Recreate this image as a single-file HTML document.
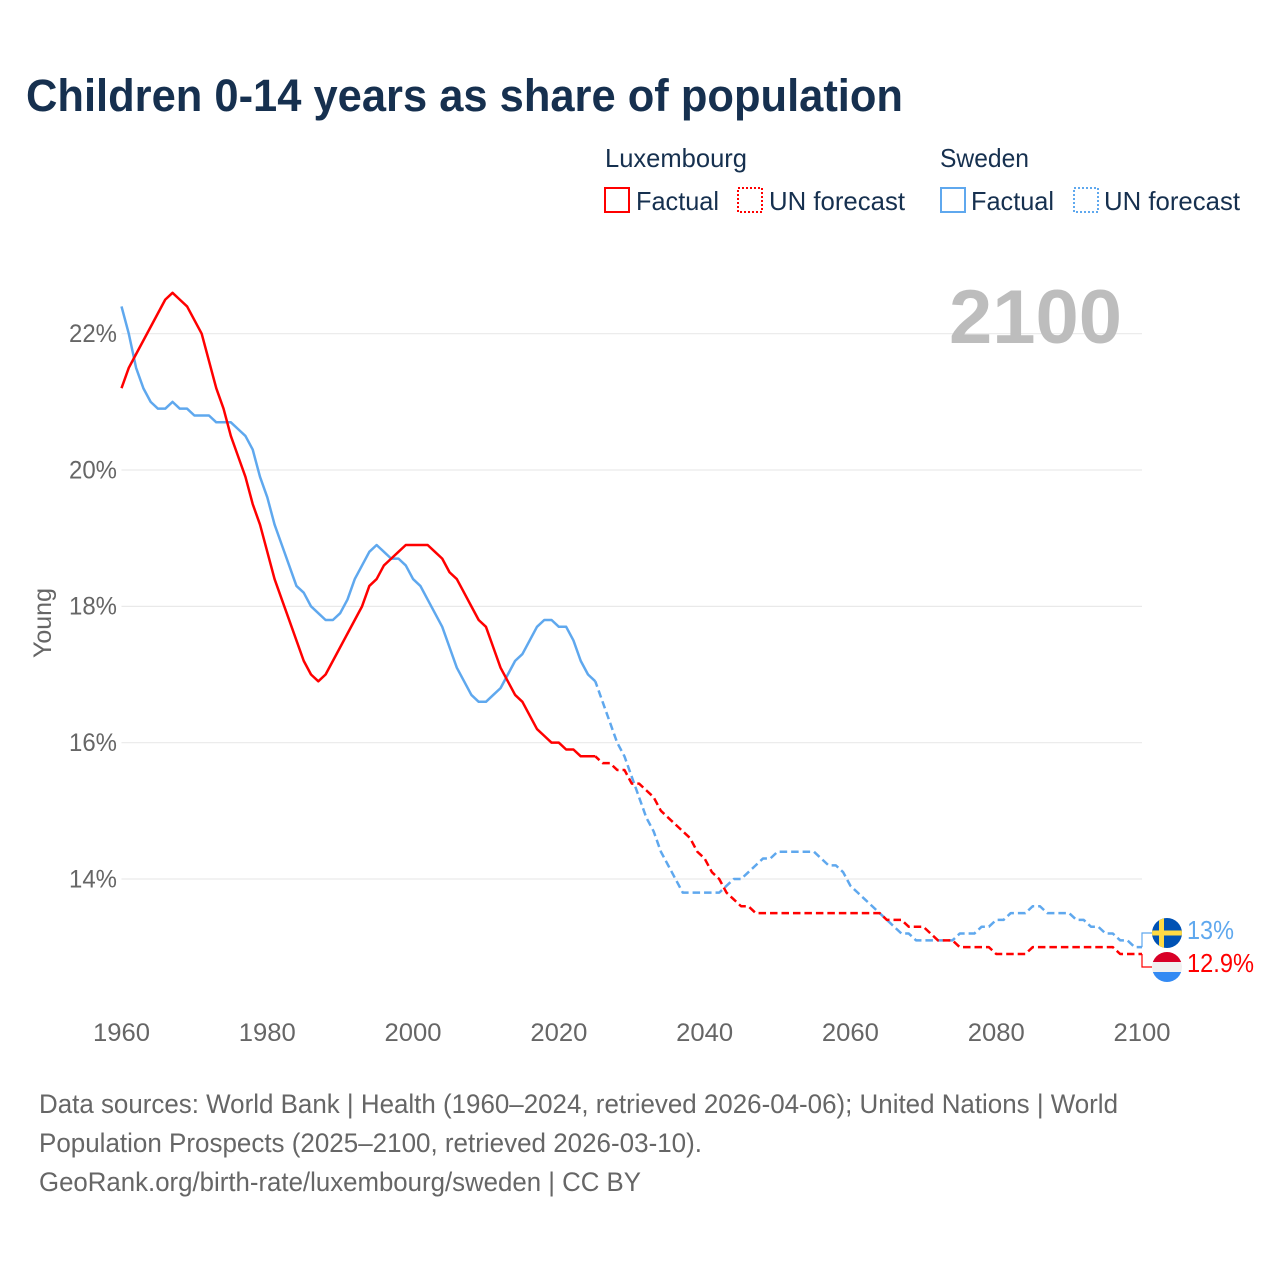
<!DOCTYPE html>
<html lang="en">
<head>
<meta charset="utf-8">
<title>Children 0-14 years as share of population</title>
<style>
html,body{margin:0;padding:0;background:#fff;}
svg{display:block;font-family:"Liberation Sans",sans-serif;}
.tick{font-size:25px;fill:#666;}
.foot{font-size:26.5px;fill:#666;}
.leg{font-size:26px;fill:#16304f;}
</style>
</head>
<body>
<svg id="chart" width="1280" height="1280" viewBox="0 0 1280 1280" xmlns="http://www.w3.org/2000/svg">
  <defs>
    <clipPath id="clip-se"><circle cx="1167" cy="933" r="15"/></clipPath>
    <clipPath id="clip-lu"><circle cx="1167" cy="967" r="15"/></clipPath>
  </defs>
  <text x="26" y="111" font-size="45" font-weight="700" fill="#16304f" textLength="877" lengthAdjust="spacingAndGlyphs">Children 0-14 years as share of population</text>

  <g>
    <text class="leg" x="605" y="167" textLength="142" lengthAdjust="spacingAndGlyphs">Luxembourg</text>
    <rect x="605" y="188" width="24" height="24" fill="none" stroke="#ff0000" stroke-width="2"/>
    <text class="leg" x="636" y="210" textLength="83" lengthAdjust="spacingAndGlyphs">Factual</text>
    <rect x="738" y="188" width="24" height="24" fill="none" stroke="#ff0000" stroke-width="2" stroke-dasharray="2 2"/>
    <text class="leg" x="769" y="210" textLength="136" lengthAdjust="spacingAndGlyphs">UN forecast</text>
  </g>
  <g>
    <text class="leg" x="940" y="167" textLength="89" lengthAdjust="spacingAndGlyphs">Sweden</text>
    <rect x="941" y="188" width="24" height="24" fill="none" stroke="#5fa8ee" stroke-width="2"/>
    <text class="leg" x="971" y="210" textLength="83" lengthAdjust="spacingAndGlyphs">Factual</text>
    <rect x="1074" y="188" width="24" height="24" fill="none" stroke="#5fa8ee" stroke-width="2" stroke-dasharray="2 2"/>
    <text class="leg" x="1104" y="210" textLength="136" lengthAdjust="spacingAndGlyphs">UN forecast</text>
  </g>

  <g id="grid"></g>
  <text x="949" y="343" font-size="76" font-weight="700" fill="#bdbdbd" textLength="173" lengthAdjust="spacingAndGlyphs">2100</text>
  <g id="yticks"></g>
  <g id="xticks"></g>
  <text class="tick" transform="translate(51,658) rotate(-90)" x="0" y="0" textLength="70" lengthAdjust="spacingAndGlyphs">Young</text>
  <g id="series"></g>

  <g clip-path="url(#clip-se)">
    <rect x="1152" y="918" width="30" height="30" fill="#0052b4"/>
    <rect x="1159" y="918" width="5" height="30" fill="#ffda44"/>
    <rect x="1152" y="930.5" width="30" height="5" fill="#ffda44"/>
  </g>
  <g clip-path="url(#clip-lu)">
    <rect x="1152" y="952" width="30" height="10" fill="#d80027"/>
    <rect x="1152" y="962" width="30" height="10" fill="#f0f0f0"/>
    <rect x="1152" y="972" width="30" height="10" fill="#338af3"/>
  </g>
  <text id="label-se" x="1187" y="939" font-size="26" fill="#5fa8ee" textLength="47" lengthAdjust="spacingAndGlyphs"></text>
  <text id="label-lu" x="1187" y="972" font-size="26" fill="#ff0000" textLength="67" lengthAdjust="spacingAndGlyphs"></text>

  <g>
    <text class="foot" x="39" y="1113" textLength="1079" lengthAdjust="spacingAndGlyphs">Data sources: World Bank | Health (1960–2024, retrieved 2026-04-06); United Nations | World</text>
    <text class="foot" x="39" y="1152" textLength="663" lengthAdjust="spacingAndGlyphs">Population Prospects (2025–2100, retrieved 2026-03-10).</text>
    <text class="foot" x="39" y="1191" textLength="602" lengthAdjust="spacingAndGlyphs">GeoRank.org/birth-rate/luxembourg/sweden | CC BY</text>
  </g>
</svg>
<script>
const yTicks = [22, 20, 18, 16, 14];
const xTicks = [1960, 1980, 2000, 2020, 2040, 2060, 2080, 2100];
const startYear = 1960;
const forecastStartYear = 2025;
const luxembourg = [
  21.2,21.5,21.7,21.9,22.1,22.3,22.5,22.6,22.5,22.4,
  22.2,22.0,21.6,21.2,20.9,20.5,20.2,19.9,19.5,19.2,
  18.8,18.4,18.1,17.8,17.5,17.2,17.0,16.9,17.0,17.2,
  17.4,17.6,17.8,18.0,18.3,18.4,18.6,18.7,18.8,18.9,
  18.9,18.9,18.9,18.8,18.7,18.5,18.4,18.2,18.0,17.8,
  17.7,17.4,17.1,16.9,16.7,16.6,16.4,16.2,16.1,16.0,
  16.0,15.9,15.9,15.8,15.8,15.8,15.7,15.7,15.6,15.6,
  15.4,15.4,15.3,15.2,15.0,14.9,14.8,14.7,14.6,14.4,
  14.3,14.1,14.0,13.8,13.7,13.6,13.6,13.5,13.5,13.5,
  13.5,13.5,13.5,13.5,13.5,13.5,13.5,13.5,13.5,13.5,
  13.5,13.5,13.5,13.5,13.5,13.4,13.4,13.4,13.3,13.3,
  13.3,13.2,13.1,13.1,13.1,13.0,13.0,13.0,13.0,13.0,
  12.9,12.9,12.9,12.9,12.9,13.0,13.0,13.0,13.0,13.0,
  13.0,13.0,13.0,13.0,13.0,13.0,13.0,12.9,12.9,12.9,12.9
];
const sweden = [
  22.4,22.0,21.5,21.2,21.0,20.9,20.9,21.0,20.9,20.9,
  20.8,20.8,20.8,20.7,20.7,20.7,20.6,20.5,20.3,19.9,
  19.6,19.2,18.9,18.6,18.3,18.2,18.0,17.9,17.8,17.8,
  17.9,18.1,18.4,18.6,18.8,18.9,18.8,18.7,18.7,18.6,
  18.4,18.3,18.1,17.9,17.7,17.4,17.1,16.9,16.7,16.6,
  16.6,16.7,16.8,17.0,17.2,17.3,17.5,17.7,17.8,17.8,
  17.7,17.7,17.5,17.2,17.0,16.9,16.6,16.3,16.0,15.8,
  15.5,15.2,14.9,14.7,14.4,14.2,14.0,13.8,13.8,13.8,
  13.8,13.8,13.8,13.9,14.0,14.0,14.1,14.2,14.3,14.3,
  14.4,14.4,14.4,14.4,14.4,14.4,14.3,14.2,14.2,14.1,
  13.9,13.8,13.7,13.6,13.5,13.4,13.3,13.2,13.2,13.1,
  13.1,13.1,13.1,13.1,13.1,13.2,13.2,13.2,13.3,13.3,
  13.4,13.4,13.5,13.5,13.5,13.6,13.6,13.5,13.5,13.5,
  13.5,13.4,13.4,13.3,13.3,13.2,13.2,13.1,13.1,13.0,13.0
];
const luxembourgEndLabel = "12.9%";
const swedenEndLabel = "13%";

const NS = "http://www.w3.org/2000/svg";
function xScale(year) { return 121.5 + (year - 1960) * (1142 - 121.5) / 140; }
function yScale(v) { return 333.7 + (22 - v) * (879 - 333.7) / 8; }
function make(tag, attrs, parent) {
  const el = document.createElementNS(NS, tag);
  for (const k in attrs) el.setAttribute(k, attrs[k]);
  parent.appendChild(el);
  return el;
}
const gridG = document.getElementById("grid");
const yG = document.getElementById("yticks");
const xG = document.getElementById("xticks");
const seriesG = document.getElementById("series");

yTicks.forEach(function (t) {
  const line = make("line", {x1: 121.5, x2: 1142, y1: yScale(t), y2: yScale(t), stroke: "#e9e9e9", "stroke-width": 1.2}, gridG);
  
  
  const label = make("text", {x: 117, y: yScale(t) + 8.3, "text-anchor": "end", class: "tick", textLength: 48, lengthAdjust: "spacingAndGlyphs"}, yG);
  
  
  label.textContent = t + "%";
});
xTicks.forEach(function (t) {
  const label = make("text", {x: xScale(t), y: 1041, "text-anchor": "middle", class: "tick", textLength: 57, lengthAdjust: "spacingAndGlyphs"}, xG);
  
  
  label.textContent = t;
});

function pathFor(values, fromYear, toYear) {
  const pts = [];
  for (let y = fromYear; y <= toYear; y++) {
    pts.push(xScale(y).toFixed(2) + "," + yScale(values[y - startYear]).toFixed(2));
  }
  return "M" + pts.join("L");
}
function drawSeries(values, color, name) {
  const end = startYear + values.length - 1;
  const solid = make("path", {d: pathFor(values, startYear, forecastStartYear), fill: "none", stroke: color, "stroke-width": 2.5, "stroke-linejoin": "round"}, seriesG);
  
  
  const dashed = make("path", {d: pathFor(values, forecastStartYear, end), fill: "none", stroke: color, "stroke-width": 2.5, "stroke-dasharray": "7.5 3.97", "stroke-dashoffset": 1.8, "stroke-linejoin": "round"}, seriesG);
  
  
}
drawSeries(sweden, "#5fa8ee", "sweden");
drawSeries(luxembourg, "#ff0000", "luxembourg");

const swedenY = yScale(sweden[sweden.length - 1]);
const luxY = yScale(luxembourg[luxembourg.length - 1]);
const endX = xScale(2100);
const c1 = make("path", {d: "M" + endX + "," + swedenY + "V933H1152", fill: "none", stroke: "#5fa8ee", "stroke-width": 1.2}, seriesG);


const c2 = make("path", {d: "M" + endX + "," + luxY + "V967H1152", fill: "none", stroke: "#ff0000", "stroke-width": 1.2}, seriesG);


document.getElementById("label-se").textContent = swedenEndLabel;
document.getElementById("label-lu").textContent = luxembourgEndLabel;
</script>
</body>
</html>
